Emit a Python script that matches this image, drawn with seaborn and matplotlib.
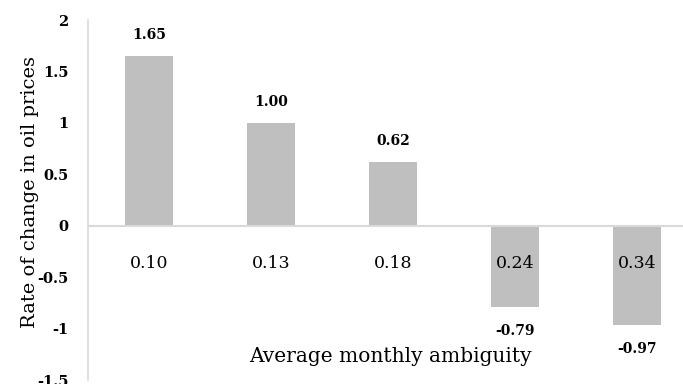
import matplotlib
matplotlib.use("Agg")
import matplotlib.pyplot as plt
import seaborn as sns
import pandas as pd

categories = ["0.10", "0.13", "0.18", "0.24", "0.34"]
values = [1.65, 1.00, 0.62, -0.79, -0.97]
y_ticks = [-1.5, -1, -0.5, 0, 0.5, 1, 1.5, 2]
y_tick_labels = ["-1.5", "-1", "-0.5", "0", "0.5", "1", "1.5", "2"]

sns.set_theme(style="white")
plt.rcParams["font.family"] = ["DejaVu Serif"]
plt.rcParams["text.color"] = "black"
plt.rcParams["ytick.color"] = "black"

df = pd.DataFrame({"ambiguity": categories, "change": values})

fig = plt.figure(figsize=(6.83, 3.84), dpi=100)
ax = fig.add_axes([88 / 683, 4 / 384, 610 / 683, 360 / 384])

sns.barplot(data=df, x="ambiguity", y="change", color="#bfbfbf",
            saturation=1, width=0.4, linewidth=0, ax=ax)

ax.set_ylim(-1.5, 2)
ax.set_xlim(-0.5, 4.5)
ax.set_yticks(y_ticks)
ax.set_yticklabels(y_tick_labels, fontsize=10.5, fontweight="bold")
ax.tick_params(axis="y", length=0, pad=14, labelcolor="black")
ax.set_xticks([])
ax.set_xlabel("")
ax.set_ylabel("")

for side in ["top", "right", "bottom"]:
    ax.spines[side].set_visible(False)
ax.spines["left"].set_color("#d9d9d9")
ax.spines["left"].set_linewidth(1.2)
ax.axhline(0, color="#d9d9d9", linewidth=1.5, zorder=3)

# category names sit just under the zero line
for i, cat in enumerate(categories):
    ax.annotate(cat, (i, 0), xytext=(0, -27), textcoords="offset points",
                ha="center", va="center", fontsize=12.5, color="black",
                fontweight="medium", zorder=5)

# value labels above positive bars, below negative ones
for i, v in enumerate(values):
    off = 15 if v >= 0 else -17
    ax.annotate(f"{v:.2f}", (i, v), xytext=(0, off), textcoords="offset points",
                ha="center", va="center", fontsize=10, fontweight="bold",
                color="black")

fig.text(30 / 683, 1 - 192 / 384, "Rate of change in oil prices", rotation=90,
         ha="center", va="center", fontsize=14, color="black")
fig.text(390 / 683, 1 - 357 / 384, "Average monthly ambiguity",
         ha="center", va="center", fontsize=14.5, color="black")

fig.savefig("out.png", dpi=100)
